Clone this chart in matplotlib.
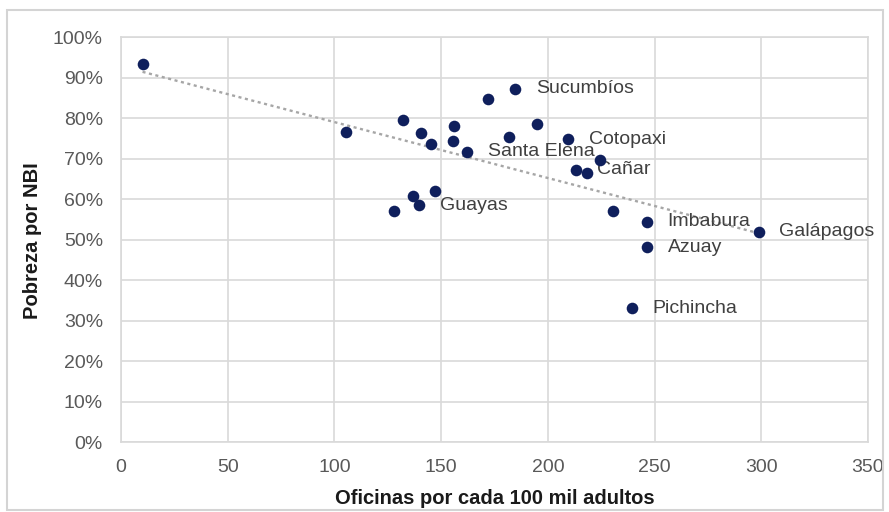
import numpy as np
import matplotlib.pyplot as plt
from matplotlib.patches import Rectangle
from matplotlib.ticker import PercentFormatter

# Oficinas por cada 100 mil adultos vs. pobreza por NBI (provincias)
oficinas = [10.1, 105.3, 132.2, 140.4, 145.1, 156.0, 155.4, 162.0,
            128.1, 136.7, 139.6, 147.1, 172.1, 184.8, 195.1, 181.8,
            209.6, 224.5, 213.2, 218.2, 230.4, 246.3, 246.3, 298.7,
            239.3]
pobreza = [93.3, 76.6, 79.5, 76.2, 73.7, 78.0, 74.4, 71.7,
           57.1, 60.7, 58.5, 61.9, 84.8, 87.2, 78.5, 75.4,
           74.7, 69.6, 67.2, 66.5, 57.1, 54.4, 48.1, 51.9,
           33.0]
nombres = ["", "", "", "", "", "", "", "Santa Elena",
           "", "", "Guayas", "", "", "Sucumbíos", "", "",
           "Cotopaxi", "", "Cañar", "", "", "Imbabura", "Azuay", "Galápagos",
           "Pichincha"]

x_ticks = [0, 50, 100, 150, 200, 250, 300, 350]
y_ticks = [0, 10, 20, 30, 40, 50, 60, 70, 80, 90, 100]

plt.rcParams['font.family'] = ['Liberation Sans', 'DejaVu Sans']

fig = plt.figure(figsize=(8.89, 5.12), dpi=100)
ax = fig.add_axes([0.1361, 0.1367, 0.8403, 0.791])

x = np.array(oficinas)
y = np.array(pobreza)

# linear trendline
m, b = np.polyfit(x, y, 1)
xt = np.array([x.min(), x.max()])
ax.plot(xt, m * xt + b, color='#a6a6a6', lw=1.7, linestyle=(0, (1.3, 1.5)), zorder=2)

ax.scatter(x, y, s=70, color='#0f1f5c', zorder=4, linewidths=0)

for xi, yi, name in zip(x, y, nombres):
    if name:
        ax.annotate(name, (xi, yi), xytext=(15, 0), textcoords='offset points',
                    ha='left', va='center', fontsize=14, color='#404040', zorder=3)

ax.set_xlim(0, 350)
ax.set_ylim(0, 100)
ax.set_xticks(x_ticks)
ax.set_yticks(y_ticks)
ax.yaxis.set_major_formatter(PercentFormatter(100, decimals=0))
ax.tick_params(length=0, labelsize=14, labelcolor='#595959')
ax.tick_params(axis='x', pad=12)
ax.tick_params(axis='y', pad=13)
ax.grid(True, color='#d9d9d9', lw=1.2)
ax.set_axisbelow(True)
for sp in ax.spines.values():
    sp.set_color('#d9d9d9')
    sp.set_linewidth(1.2)

fig.text(0.5562, 0.027, "Oficinas por cada 100 mil adultos", ha='center', va='center',
         fontsize=14.5, fontweight='bold', color='#1a1a1a')
fig.text(0.037, 0.531, "Pobreza por NBI", ha='center', va='center', rotation=90,
         fontsize=14.5, fontweight='bold', color='#1a1a1a')

# chart frame
fig.patches.append(Rectangle((7 / 889, 2 / 512), 876 / 889, 500 / 512, transform=fig.transFigure,
                             fill=False, edgecolor='#d4d4d4', lw=1.5))

fig.savefig("out.png", dpi=100)
